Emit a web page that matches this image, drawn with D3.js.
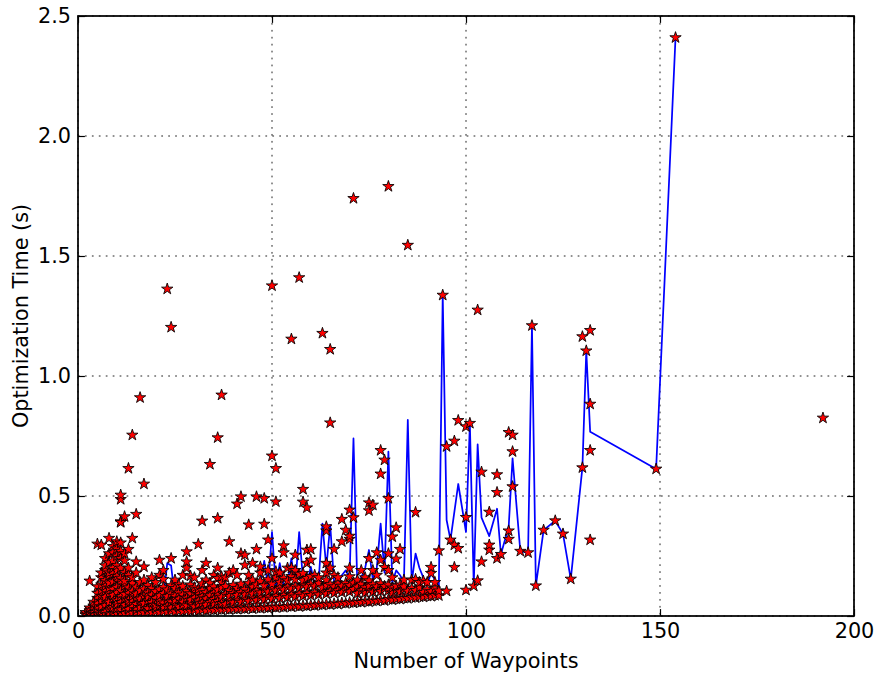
<!DOCTYPE html>
<html><head><meta charset="utf-8">
<script src="https://cdn.jsdelivr.net/npm/d3@7"></script>
<style>body{margin:0;background:#fff} text{font-family:"DejaVu Sans",sans-serif}</style>
</head><body><svg id="c" width="876" height="677"></svg>
<script>
const xTicks=[0,50,100,150,200];
const yTicks=[0,0.5,1.0,1.5,2.0,2.5];
const xLabel="Number of Waypoints";
const yLabel="Optimization Time (s)";

const lineX=[2,3,4,5,6,7,8,9,10,11,12,13,14,15,16,17,18,19,20,21,22,23,24,25,26,27,28,29,30,31,32,33,34,35,36,37,38,39,40,41,42,43,44,45,46,47,48,49,50,51,52,53,54,55,56,57,58,59,60,61,62,63,64,65,66,67,68,69,70,71,72,73,74,75,76,77,78,79,80,81,82,83,84,85,86,87,88,89,90,91,92,93,94,95,96,98,100,101,102,103,104,106,108,109,111,112,114,116,117,118,120,123,125,127,130,131,132,149,154];
const lineY=[.02,.025,.03,.04,.045,.05,.055,.055,.06,.065,.06,.065,.06,.065,.06,.065,.06,.06,.065,.07,.07,.22,.21,.07,.075,.08,.085,.08,.085,.09,.09,.095,.137,.09,.1,.164,.1,.105,.11,.1,.12,.11,.12,.125,.12,.14,.23,.12,.35,.12,.22,.13,.14,.24,.125,.35,.15,.13,.205,.13,.14,.385,.2,.38,.14,.13,.17,.19,.16,.74,.12,.16,.2,.275,.15,.2,.385,.18,.685,.14,.19,.17,.14,.817,.14,.26,.2,.16,.13,.18,.15,.12,1.337,.4,.317,.55,.35,.80,.125,.715,.41,.333,.447,.257,.372,.657,.27,.264,1.21,.126,.358,.397,.342,.154,.618,1.105,.768,.6125,2.41];

const cloud=[
[2,[.004,.009,.015]],
[3,[.005,.012,.022,.034,.146]],
[4,[.006,.014,.027,.041,.058]],
[5,[.007,.018,.033,.052,.074,.095,.122,.30]],
[6,[.006,.021,.039,.062,.083,.107,.13,.16,.18,.296]],
[7,[.009,.016,.044,.068,.079,.104,.125,.148,.19,.21,.24]],
[8,[.008,.027,.051,.058,.093,.117,.138,.169,.18,.222,.26,.324]],
[9,[.011,.022,.036,.074,.087,.112,.143,.176,.2,.23,.264,.29]],
[10,[.01,.031,.048,.063,.098,.12,.152,.166,.19,.21,.25,.28,.31]],
[11,[.012,.026,.057,.081,.106,.137,.158,.2,.24,.27,.305,.393,.39,.486,.504]],
[12,[.011,.034,.046,.072,.091,.126,.146,.181,.23,.26,.414]],
[13,[.014,.029,.054,.066,.095,.118,.17,.2,.278,.615]],
[14,[.013,.038,.061,.083,.104,.136,.16,.324,.754]],
[15,[.015,.027,.049,.076,.092,.121,.18,.226,.424]],
[16,[.016,.036,.058,.071,.105,.14,.91]],
[17,[.014,.042,.053,.083,.113,.15,.205,.55]],
[18,[.017,.031,.064,.079,.097,.128]],
[19,[.015,.039,.057,.088,.116,.16]],
[20,[.018,.033,.046,.074,.102,.14]],
[21,[.016,.044,.062,.085,.11,.17,.233]],
[22,[.019,.036,.055,.094,.12,.153,.19]],
[23,[.017,.041,.068,.081,.109,1.3625]],
[24,[.02,.034,.059,.092,.127,.24,1.203]],
[25,[.018,.047,.066,.083,.115,.15]],
[26,[.021,.038,.071,.097,.13]],
[27,[.019,.045,.058,.088,.124,.17]],
[28,[.022,.043,.075,.104,.2,.226,.268]],
[29,[.02,.051,.067,.093,.13,.167]],
[30,[.024,.039,.076,.1,.118,.16]],
[31,[.021,.048,.063,.09,.112,.299]],
[32,[.025,.054,.081,.106,.135,.19,.396]],
[33,[.022,.046,.072,.098,.15,.22]],
[34,[.026,.057,.085,.115,.137,.632]],
[35,[.024,.05,.069,.096,.122,.17]],
[36,[.027,.061,.088,.109,.157,.2,.407,.743]],
[37,[.025,.053,.079,.118,.14,.164,.921]],
[38,[.028,.049,.091,.124,.16]],
[39,[.026,.063,.083,.106,.18,.31]],
[40,[.03,.056,.094,.128,.19]],
[41,[.028,.067,.086,.115,.17,.467]],
[42,[.031,.058,.098,.133,.26,.497]],
[43,[.029,.07,.089,.112,.212,.254]],
[44,[.033,.062,.1,.137,.17,.38]],
[45,[.03,.072,.092,.121,.15,.22]],
[46,[.034,.066,.104,.13,.278,.497]],
[47,[.032,.076,.097,.145,.18,.205]],
[48,[.035,.068,.108,.127,.383,.49]],
[49,[.033,.079,.101,.152,.19,.317]],
[50,[.037,.071,.112,.134,.24,.667,1.376]],
[51,[.035,.082,.105,.16,.185,.476,.615]],
[52,[.038,.074,.116,.141,.18]],
[53,[.036,.085,.109,.158,.264,.293]],
[54,[.04,.077,.12,.147,.2]],
[55,[.038,.088,.113,.165,.2,1.154]],
[56,[.042,.08,.124,.152,.19,.254]],
[57,[.039,.091,.117,.175,1.41]],
[58,[.043,.083,.128,.148,.178,.475,.528]],
[59,[.041,.094,.121,.157,.22,.275,.451]],
[60,[.045,.086,.132,.165,.233,.278]],
[61,[.043,.097,.125,.17]],
[62,[.047,.089,.136,.16]],
[63,[.045,.1,.118,1.178]],
[64,[.049,.092,.128,.15,.18,.22,.355,.372]],
[65,[.047,.103,.131,.2,.805,1.111]],
[66,[.051,.095,.122,.17,.278]],
[67,[.049,.106,.134,.16]],
[68,[.054,.098,.125,.31,.403]],
[69,[.052,.108,.137,.358]],
[70,[.056,.101,.127,.164,.2,.32,.333,.442]],
[71,[.054,.111,.138,.41,1.74]],
[72,[.058,.094,.121,.15]],
[73,[.057,.105,.133,.19]],
[74,[.061,.097,.118,.16]],
[75,[.059,.108,.126,.147,.24,.439,.472]],
[76,[.063,.1,.131,.19,.4625]],
[77,[.062,.111,.122,.17,.264]],
[78,[.066,.103,.135,.233,.592,.69]],
[79,[.064,.114,.124,.203,.65]],
[80,[.069,.106,.13,.19,.26,.49,1.79]],
[81,[.067,.097,.117,.16,.33]],
[82,[.071,.109,.125,.2375,.368]],
[83,[.07,.101,.129,.278]],
[84,[.074,.112,.122,.15]],
[85,[.073,.104,1.545]],
[86,[.077,.115,.15]],
[87,[.076,.107,.153,.432]],
[88,[.08,.118,.14]],
[89,[.079,.099,.146]],
[90,[.083,.11,.14]],
[91,[.082,.102,.178,.203]],
[92,[.086,.113,.14]],
[93,[.085,.105,.272]],
[94,[1.337]],
[95,[.104,.706]],
[96,[.317]],
[97,[.203,.296,.729]],
[98,[.282,.815]],
[100,[.108,.411,.789]],
[101,[.803]],
[102,[.125]],
[103,[.147,1.275]],
[104,[.226,.60]],
[106,[.275,.296,.433]],
[108,[.24,.515,.589]],
[109,[.257]],
[111,[.32,.355,.765]],
[112,[.539,.685,.754]],
[114,[.27]],
[116,[.264]],
[117,[1.21]],
[118,[.126]],
[120,[.358]],
[123,[.397]],
[125,[.342]],
[127,[.154]],
[130,[.618,1.164]],
[131,[1.105]],
[132,[.317,.69,.883,1.19]],
[149,[.6125]],
[154,[2.41]],
[192,[.825]]
];

const W=876,H=677;
const m={l:78,r:854,t:16,b:616};
const FS=20.8;
const svg=d3.select("#c");
const x=d3.scaleLinear().domain([0,200]).range([m.l,m.r]);
const y=d3.scaleLinear().domain([0,2.5]).range([m.b,m.t]);

svg.append("defs").append("clipPath").attr("id","pc").append("rect")
  .attr("x",m.l).attr("y",m.t).attr("width",m.r-m.l).attr("height",m.b-m.t);

// grid
const grid=svg.append("g").attr("stroke","#000").attr("stroke-width",0.87).attr("stroke-dasharray","1.74,5.2");
grid.selectAll(".gx").data(xTicks).join("line").attr("x1",d=>x(d)).attr("x2",d=>x(d)).attr("y1",m.t).attr("y2",m.b);
grid.selectAll(".gy").data(yTicks).join("line").attr("y1",d=>y(d)).attr("y2",d=>y(d)).attr("x1",m.l).attr("x2",m.r);

const plot=svg.append("g").attr("clip-path","url(#pc)");
const lineData=lineX.map((v,i)=>[v,lineY[i]]);
plot.append("path").datum(lineData)
  .attr("d",d3.line().x(d=>x(d[0])).y(d=>y(d[1])))
  .attr("fill","none").attr("stroke","#0000ff").attr("stroke-width",1.74).attr("stroke-linejoin","round");

const pts=cloud.flatMap(([xv,ys])=>ys.map(v=>({x:xv,y:v})));
const star=d3.symbol().type(d3.symbolStar).size(40);
plot.selectAll(".s").data(pts).join("path")
  .attr("transform",d=>`translate(${x(d.x)},${y(d.y)})`)
  .attr("d",star()).attr("fill","#ff0000").attr("stroke","#000").attr("stroke-width",0.87);

// axes
const fmtY=d3.format(".1f");
const ax=svg.append("g").attr("transform",`translate(0,${m.b})`)
  .call(d3.axisBottom(x).tickValues(xTicks).tickSizeInner(-6.9).tickSizeOuter(0).tickPadding(6.9).tickFormat(d3.format("d")));
const axT=svg.append("g").attr("transform",`translate(0,${m.t})`)
  .call(d3.axisTop(x).tickValues(xTicks).tickSizeInner(-6.9).tickSizeOuter(0).tickFormat(""));
const ay=svg.append("g").attr("transform",`translate(${m.l},0)`)
  .call(d3.axisLeft(y).tickValues(yTicks).tickSizeInner(-6.9).tickSizeOuter(0).tickPadding(6.9).tickFormat(fmtY));
const ayR=svg.append("g").attr("transform",`translate(${m.r},0)`)
  .call(d3.axisRight(y).tickValues(yTicks).tickSizeInner(-6.9).tickSizeOuter(0).tickFormat(""));
[ax,axT,ay,ayR].forEach(g=>{
  g.select(".domain").remove();
  g.selectAll("line").attr("stroke","#000").attr("stroke-width",1.2);
  g.selectAll("text").attr("font-size",FS).attr("fill","#000").attr("font-family","DejaVu Sans");
});
svg.append("rect").attr("x",m.l).attr("y",m.t).attr("width",m.r-m.l).attr("height",m.b-m.t)
  .attr("fill","none").attr("stroke","#000").attr("stroke-width",1.74);

svg.append("text").attr("x",(m.l+m.r)/2).attr("y",668).attr("text-anchor","middle")
  .attr("font-size",FS).text(xLabel);
svg.append("text").attr("transform",`translate(28,${(m.t+m.b)/2}) rotate(-90)`).attr("text-anchor","middle")
  .attr("font-size",FS).text(yLabel);
</script></body></html>
